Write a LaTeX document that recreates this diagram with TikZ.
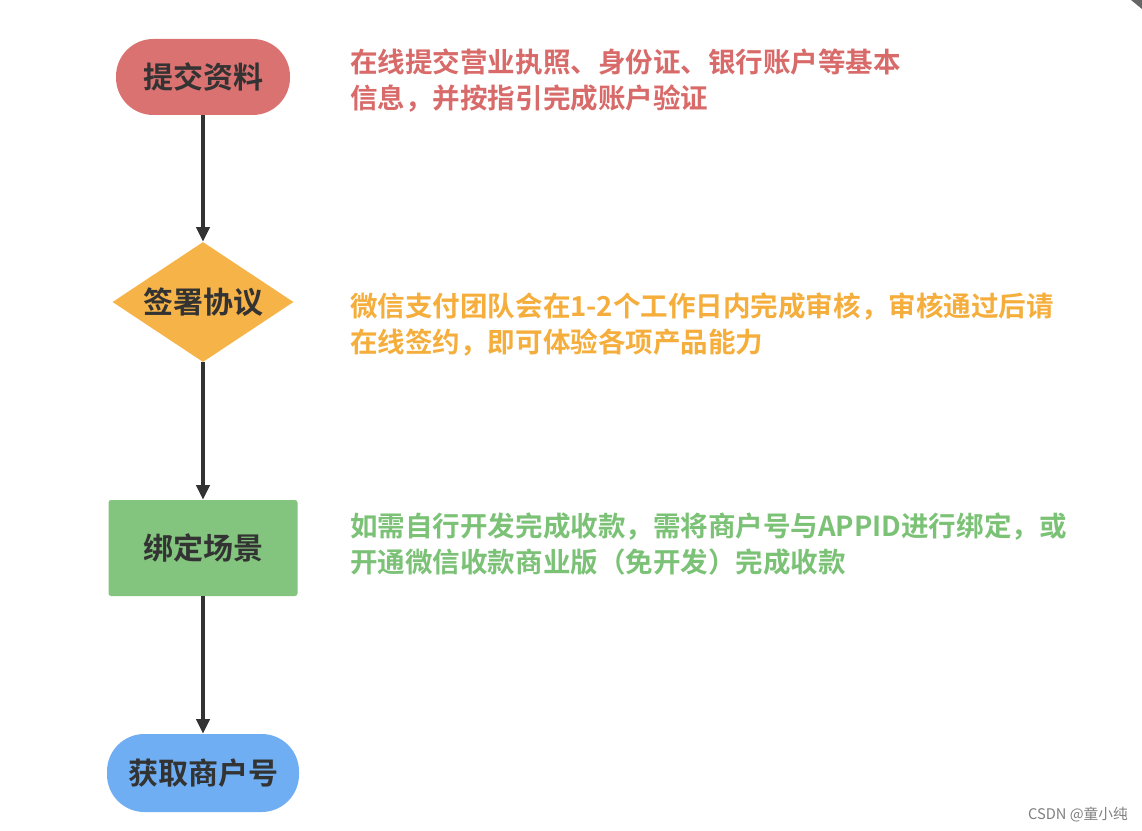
\documentclass[tikz,border=0pt]{standalone}
\usepackage{fontspec}
\usetikzlibrary{shapes.geometric,arrows.meta}
\newfontfamily\cjk{Noto Sans CJK SC}[BoldFont={Noto Sans CJK SC Bold}]
\newfontfamily\cjkwm{Noto Sans CJK SC}
\definecolor{cred}{HTML}{DB7272}
\definecolor{cyel}{HTML}{F6B348}
\definecolor{cgrn}{HTML}{83C47E}
\definecolor{cblu}{HTML}{6FAEF2}
\definecolor{tred}{HTML}{D96A6A}
\definecolor{tyel}{HTML}{F5AE3C}
\definecolor{tgrn}{HTML}{7BC276}
\definecolor{ink}{HTML}{333333}
\tikzset{
  boxtext/.style={font=\cjk\bfseries\fontsize{22.5}{26}\selectfont, text=ink, inner sep=0pt},
  note/.style={anchor=north west, align=left, inner sep=0pt, font=\cjk\bfseries\fontsize{20.65}{27}\selectfont},
  flow/.style={draw=ink, line width=2.4pt, -{Triangle[length=11pt,width=10pt]}}
}
\begin{document}
\begin{tikzpicture}[x=0.75pt,y=-0.75pt]
\fill[white] (0,0) rectangle (1142,831);
\useasboundingbox (0,0) rectangle (1142,831);
\fill[gray!80!black] (1131,0) -- (1142,0) -- (1142,9) -- cycle;
% nodes
\node[boxtext, fill=cred, rounded corners=28pt, minimum width=130.5pt, minimum height=57pt] (s1) at (203,77) {提交资料};
\node[boxtext, fill=cyel, diamond, aspect=1.5, minimum width=135.75pt, minimum height=90pt] (s2) at (203,302) {签署协议};
\node[boxtext, fill=cgrn, rounded corners=2pt, minimum width=141.75pt, minimum height=72pt] (s3) at (203,548) {绑定场景};
\node[boxtext, fill=cblu, rounded corners=28pt, minimum width=144pt, minimum height=58.5pt] (s4) at (203,773) {获取商户号};
% arrows
\draw[flow] (s1.south) -- (s2.north);
\draw[flow] (s2.south) -- (s3.north);
\draw[flow] (s3.south) -- (s4.north);
% notes
\node[note, text=tred] (n1) at (350,49) {在线提交营业执照、身份证、银行账户等基本\\信息，并按指引完成账户验证};
\node[note, text=tyel] (n2) at (350,292) {微信支付团队会在1-2个工作日内完成审核，审核通过后请\\在线签约，即可体验各项产品能力};
\node[note, text=tgrn] (n3) at (350,513) {如需自行开发完成收款，需将商户号与APPID进行绑定，或\\开通微信收款商业版（免开发）完成收款};
\node[anchor=east, inner sep=0pt, text=gray, font=\cjkwm\fontsize{11}{13}\selectfont] (wm) at (1128,815) {CSDN @童小纯};
\end{tikzpicture}
\end{document}
